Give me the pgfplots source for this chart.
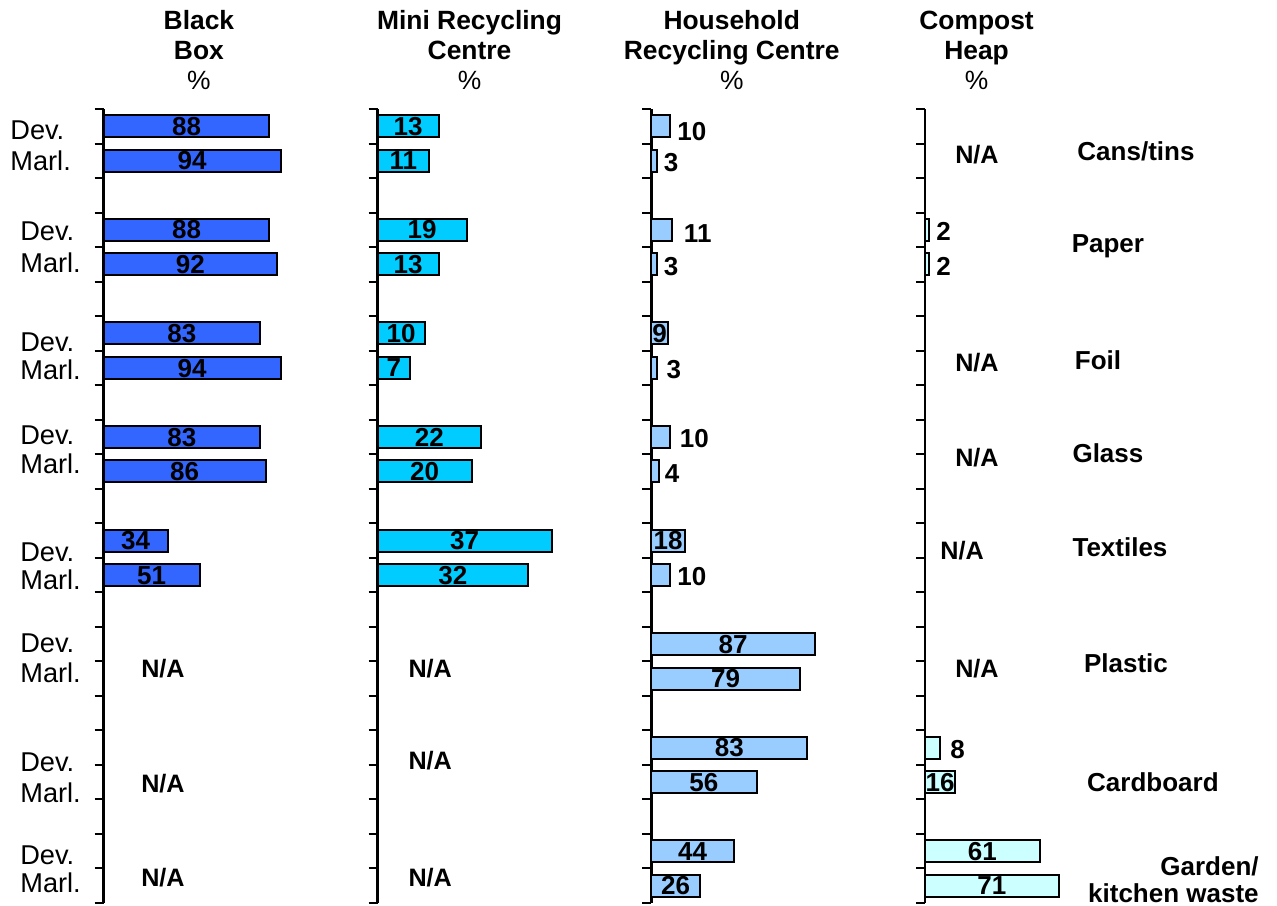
\documentclass[border=0pt]{standalone}
\usepackage{pgfplots}
\pgfplotsset{compat=1.18}
\usepackage{pgfplotstable}
\usepackage{fontspec}
\setmainfont{Liberation Sans}
\definecolor{cBB}{HTML}{3366FF}
\definecolor{cMRC}{HTML}{00CCFF}
\definecolor{cHRC}{HTML}{99CCFF}
\definecolor{cCH}{HTML}{CCFFFF}

% ---------- data ----------
% Black Box (%)
\pgfplotstableread{
y v
0.5 88
1.5 94
3.5 88
4.5 92
6.5 83
7.5 94
9.5 83
10.5 86
12.5 34
13.5 51
}\tabBB
% Mini Recycling Centre (%)
\pgfplotstableread{
y v
0.5 13
1.5 11
3.5 19
4.5 13
6.5 10
7.5 7
9.5 22
10.5 20
12.5 37
13.5 32
}\tabMRC
% Household Recycling Centre (%)
\pgfplotstableread{
y v
0.5 10
1.5 3
3.5 11
4.5 3
6.5 9
7.5 3
9.5 10
10.5 4
12.5 18
13.5 10
15.5 87
16.5 79
18.5 83
19.5 56
21.5 44
22.5 26
}\tabHRC
\pgfplotstableread{
y v
6.5 9
12.5 18
15.5 87
16.5 79
18.5 83
19.5 56
21.5 44
22.5 26
}\tabHRCin
\pgfplotstableread{
y lx v
0.65 13.7 10
1.55 6.5 3
3.6 17.2 11
4.55 6.5 3
7.55 8.0 3
9.55 15.0 10
10.55 7.1 4
13.55 13.7 10
}\tabHRCout
% Compost Heap (%)
\pgfplotstableread{
y v
3.5 2
4.5 2
18.5 8
19.5 16
21.5 61
22.5 71
}\tabCH
\pgfplotstableread{
y v
19.5 16
21.5 61
22.5 71
}\tabCHin
\pgfplotstableread{
y lx v
3.55 5.8 2
4.55 5.8 2
18.55 13.3 8
}\tabCHout
% row labels
\pgfplotstableread{
x y lab
-49.8 0.61 Dev.
-49.8 1.51 Marl.
-44.5 3.53 Dev.
-44.5 4.46 Marl.
-44.5 6.75 Dev.
-44.5 7.56 Marl.
-44.5 9.45 Dev.
-44.5 10.26 Marl.
-44.5 12.83 Dev.
-44.5 13.64 Marl.
-44.5 15.47 Dev.
-44.5 16.34 Marl.
-44.5 18.92 Dev.
-44.5 19.79 Marl.
-44.5 21.61 Dev.
-44.5 22.42 Marl.
}\tabRows
\pgfplotstableread{
x y lab
31.5 16.19 N/A
31.5 19.52 N/A
31.5 22.25 N/A
}\tabNAa
\pgfplotstableread{
x y lab
11.2 16.19 N/A
11.2 18.86 N/A
11.2 22.25 N/A
}\tabNAb
\pgfplotstableread{
x y lab
27.6 1.30 N/A
27.6 7.33 N/A
27.6 10.08 N/A
19.7 12.78 N/A
27.6 16.19 N/A
}\tabNAd
\pgfplotstableread[col sep=comma]{
x,y,lab
112.1,1.22,Cans/tins
97.2,3.91,Paper
91.9,7.27,Foil
97.2,9.97,Glass
103.6,12.69,Textiles
106.8,16.05,Plastic
121.1,19.5,Cardboard
}\tabCat
\pgfplotstableread[col sep=comma]{
x,y,lab
177.5,21.93,Garden/
177.5,22.70,kitchen waste
}\tabCatR

\pgfplotsset{
  panel/.style={
    width=94.1bp, height=397bp, scale only axis,
    xmin=0, xmax=100, ymin=0, ymax=23, y dir=reverse,
    axis x line=none, axis y line*=left,
    ytick={0,...,23}, yticklabels={},
    tick align=outside, major tick length=4.5bp,
    every tick/.style={black, line width=1bp},
    axis line style={black, line width=1.3bp},
    clip=false,
    title style={anchor=north, yshift=43.3bp, inner sep=0pt, align=center,
      font=\fontsize{13.2bp}{15bp}\selectfont},
  },
  bars/.style={xbar, bar width=11bp, fill=#1, draw=black, line width=1bp},
  lab/.style 2 args={draw=none, mark=none, nodes near coords,
    point meta=explicit symbolic, nodes near coords align=#1,
    every node near coord/.append style={anchor=#1, inner sep=0pt, text depth=0pt,
      text=black, font=#2}},
}
\newcommand{\fb}{\bfseries\fontsize{13bp}{15bp}\selectfont}
\newcommand{\fr}{\fontsize{13.6bp}{15bp}\selectfont}
\newcommand{\fc}{\bfseries\fontsize{13bp}{15bp}\selectfont}
\newcommand{\fn}{\bfseries\fontsize{12.6bp}{15bp}\selectfont}

\begin{document}
\begin{tikzpicture}
\useasboundingbox (0,0) rectangle (638.5bp,-453bp);

% Panel 1: Black Box
\begin{axis}[panel, at={(51.85bp,-451.5bp)}, anchor=south west,
  title={\textbf{Black}\\\textbf{Box}\\\%}, title style={at={(0.506,1)}}]
  \addplot[bars=cBB] table[x=v, y=y] {\tabBB};
  \addplot[lab={center}{\fb}] table[x expr=\thisrow{v}/2, y=y, meta=v] {\tabBB};
  \addplot[lab={west}{\fr}] table[x=x, y=y, meta=lab] {\tabRows};
  \addplot[lab={center}{\fn}] table[x=x, y=y, meta=lab] {\tabNAa};
\end{axis}

% Panel 2: Mini Recycling Centre
\begin{axis}[panel, xmax=40, at={(188.75bp,-451.5bp)}, anchor=south west,
  title={\textbf{Mini Recycling}\\\textbf{Centre}\\\%}, title style={at={(0.489,1)}}]
  \addplot[bars=cMRC] table[x=v, y=y] {\tabMRC};
  \addplot[lab={center}{\fb}] table[x expr=\thisrow{v}/2, y=y, meta=v] {\tabMRC};
  \addplot[lab={center}{\fn}] table[x=x, y=y, meta=lab] {\tabNAb};
\end{axis}

% Panel 3: Household Recycling Centre
\begin{axis}[panel, at={(325.6bp,-451.5bp)}, anchor=south west,
  title={\textbf{Household}\\\textbf{Recycling Centre}\\\%}, title style={at={(0.428,1)}}]
  \addplot[bars=cHRC] table[x=v, y=y] {\tabHRC};
  \addplot[lab={center}{\fb}] table[x expr=\thisrow{v}/2, y=y, meta=v] {\tabHRCin};
  \addplot[lab={west}{\fb}] table[x=lx, y=y, meta=v] {\tabHRCout};
\end{axis}

% Panel 4: Compost Heap
\begin{axis}[panel, at={(462.5bp,-451.5bp)}, anchor=south west,
  title={\textbf{Compost}\\\textbf{Heap}\\\%}, title style={at={(0.274,1)}}]
  \addplot[bars=cCH] table[x=v, y=y] {\tabCH};
  \addplot[lab={center}{\fb}] table[x expr=\thisrow{v}/2, y=y, meta=v] {\tabCHin};
  \addplot[lab={west}{\fb}] table[x=lx, y=y, meta=v] {\tabCHout};
  \addplot[lab={center}{\fn}] table[x=x, y=y, meta=lab] {\tabNAd};
  \addplot[lab={center}{\fc}] table[x=x, y=y, meta=lab] {\tabCat};
  \addplot[lab={east}{\fc}] table[x=x, y=y, meta=lab] {\tabCatR};
\end{axis}
\end{tikzpicture}
\end{document}
